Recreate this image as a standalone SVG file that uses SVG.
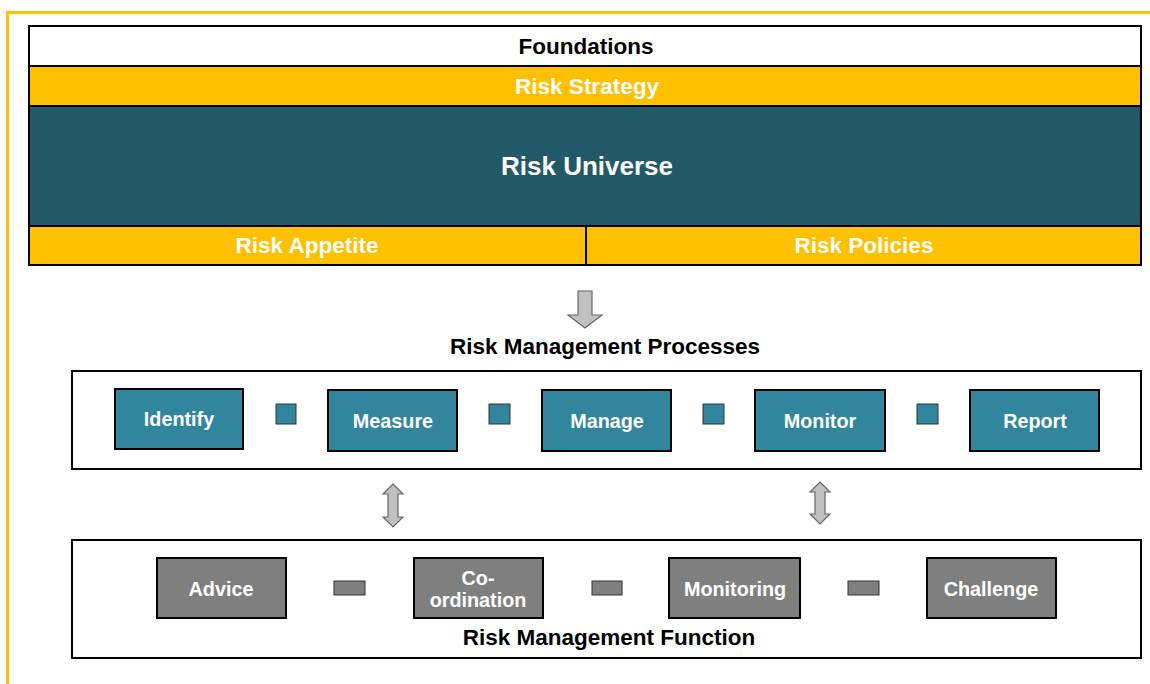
<svg xmlns="http://www.w3.org/2000/svg" width="1150" height="684" viewBox="0 0 1150 684">
<style>
text{font-family:"Liberation Sans",Arial,sans-serif;font-weight:bold;text-anchor:middle;dominant-baseline:central}
.band{stroke:#000;stroke-width:2}
.w{fill:#fff;font-size:22.5px}
.k{fill:#000;font-size:22.5px}
.proc{fill:#31859C;stroke:#000;stroke-width:2}
.func{fill:#7F7F7F;stroke:#000;stroke-width:2}
.pt{fill:#fff;font-size:19.8px}
.sq{fill:#31859C;stroke:#333;stroke-width:1}
.gq{fill:#7F7F7F;stroke:#333;stroke-width:1}
.frame{fill:#fff;stroke:#000;stroke-width:2}
.arr{fill:#C0C0C0;stroke:#666;stroke-width:1.2}
</style>
<rect width="1150" height="684" fill="#fff"/>
<path d="M7.5 684 V12.5 H1150" fill="none" stroke="#FFC000" stroke-width="3"/>
<g id="foundations">
<rect class="band" x="29" y="26" width="1112" height="40" fill="#fff"/>
<text class="k" x="586" y="46">Foundations</text>
</g>
<g id="risk-strategy">
<rect class="band" x="29" y="66" width="1112" height="40" fill="#FFC000"/>
<text class="w" x="587" y="86">Risk Strategy</text>
</g>
<g id="risk-universe">
<rect class="band" x="29" y="106" width="1112" height="120" fill="#215968"/>
<text class="w" x="587" y="166" style="font-size:26px">Risk Universe</text>
</g>
<g id="risk-appetite">
<rect class="band" x="29" y="226" width="557" height="39" fill="#FFC000"/>
<text class="w" x="307" y="245">Risk Appetite</text>
</g>
<g id="risk-policies">
<rect class="band" x="586" y="226" width="555" height="39" fill="#FFC000"/>
<text class="w" x="864" y="245">Risk Policies</text>
</g>
<g id="processes">
<text class="k" x="605" y="346">Risk Management Processes</text>
<rect class="frame" x="72" y="371" width="1069" height="98"/>
</g>
<g id="identify"><rect class="proc" x="115" y="389" width="128" height="60"/><text class="pt" x="179" y="419">Identify</text></g>
<g id="measure"><rect class="proc" x="328" y="390" width="129" height="61"/><text class="pt" x="393" y="421">Measure</text></g>
<g id="manage"><rect class="proc" x="542" y="390" width="129" height="61"/><text class="pt" x="607" y="421">Manage</text></g>
<g id="monitor"><rect class="proc" x="755" y="390" width="130" height="61"/><text class="pt" x="820" y="421">Monitor</text></g>
<g id="report"><rect class="proc" x="970" y="390" width="129" height="61"/><text class="pt" x="1035" y="421">Report</text></g>
<g id="function">
<rect class="frame" x="72" y="540" width="1069" height="118"/>
<text class="k" x="609" y="637">Risk Management Function</text>
</g>
<g id="advice"><rect class="func" x="157" y="558" width="129" height="60"/><text class="pt" x="221" y="589">Advice</text></g>
<g id="coordination"><rect class="func" x="414" y="558" width="129" height="60"/><text class="pt" x="478" y="578">Co-</text><text class="pt" x="478" y="600">ordination</text></g>
<g id="monitoring"><rect class="func" x="669" y="558" width="131" height="60"/><text class="pt" x="735" y="589">Monitoring</text></g>
<g id="challenge"><rect class="func" x="927" y="558" width="129" height="60"/><text class="pt" x="991" y="589">Challenge</text></g>
<g id="connectors">
<rect class="sq" x="276" y="404" width="20" height="20"/>
<rect class="sq" x="489" y="404" width="21" height="20"/>
<rect class="sq" x="703" y="404" width="21" height="20"/>
<rect class="sq" x="917" y="404" width="21" height="20"/>
<rect class="gq" x="334" y="581" width="31" height="14"/>
<rect class="gq" x="592" y="581" width="30" height="14"/>
<rect class="gq" x="848" y="581" width="31" height="14"/>
<path class="arr" d="M578 291 H592 V315 H602 L585 328 L568 315 H578 Z"/>
<path class="arr" d="M393 484 L403 494 H398 V517 H403 L393 527 L383 517 H388 V494 H383 Z"/>
<path class="arr" d="M820 482 L830 492 H825 V514 H830 L820 524 L810 514 H815 V492 H810 Z"/>
</g>
</svg>
